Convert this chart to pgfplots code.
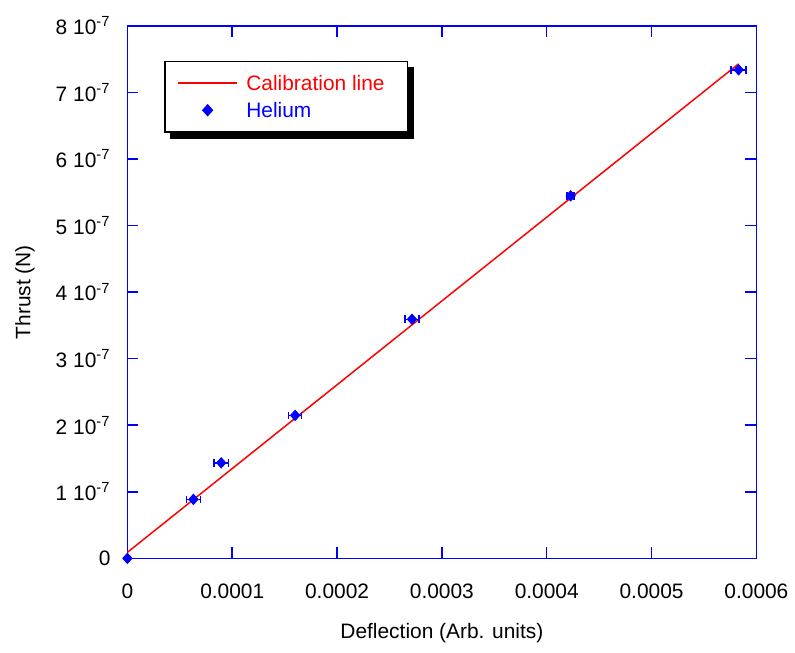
\documentclass[border=0pt]{standalone}
\usepackage{pgfplots}
\pgfplotsset{compat=1.18}
\usepackage{fontspec}
\setmainfont{Liberation Sans}
\pgfdeclarelayer{shadowlayer}
\pgfsetlayers{shadowlayer,main}
\begin{document}
\begin{tikzpicture}
\begin{axis}[
  scale only axis,
  width=316pt, height=267.5pt,
  font=\fontsize{10.5}{12.6}\selectfont,
  xmin=0, xmax=0.0006, ymin=0, ymax=8,
  axis line style={blue, line width=0.75pt},
  every tick/.style={blue, line width=0.75pt},
  tick align=inside,
  major tick length=5.5pt,
  xtick={0,0.0001,0.0002,0.0003,0.0004,0.0005,0.0006},
  xticklabels={0,0.0001,0.0002,0.0003,0.0004,0.0005,0.0006},
  ytick={0,1,2,3,4,5,6,7,8},
  yticklabels={0,1 10\textsuperscript{-7},2 10\textsuperscript{-7},3 10\textsuperscript{-7},4 10\textsuperscript{-7},5 10\textsuperscript{-7},6 10\textsuperscript{-7},7 10\textsuperscript{-7},8 10\textsuperscript{-7}},
  x tick label style={yshift=-9.5pt},
  y tick label style={xshift=-5pt},
  scaled x ticks=false,
  xlabel={Deflection (Arb. units)},
  ylabel={Thrust (N)},
  x label style={at={(axis description cs:0.5,-0.14)}, anchor=center},
  y label style={at={(axis description cs:-0.163,0.5)}, anchor=center},
  clip=false,
  legend cell align=left,
  legend style={name=leg, at={(rel axis cs:0.0585,0.9346)}, anchor=north west,
    draw=black, line width=0.75pt, fill=white,
    inner xsep=6pt, inner ysep=6pt, row sep=3.5pt, column sep=4pt,
    nodes={inner sep=0pt, text height=8.5pt, text depth=1.5pt}},
]
\addplot[red, line width=0.75pt,
  legend image code/.code={\draw[red, line width=0.9pt] (0pt,0pt) -- (30pt,0pt);}]
  coordinates {(0,0.09) (0.000583,7.43)};
\addlegendentry{\textcolor{red}{Calibration line}\kern 5.5pt}
\addplot[only marks, mark=diamond*, mark size=2.6pt, blue,
  mark options={xscale=1.2},
  legend image code/.code={\path[draw=none] (0pt,0pt) -- (30pt,0pt); \path[draw=none] plot[mark=diamond*, only marks, mark size=2.6pt, mark options={draw=blue, fill=blue, xscale=1.2}] coordinates {(15pt,0pt)};},
  error bars/.cd, x dir=both, x explicit,
  error mark=|,
  error bar style={blue, line width=0.75pt},
  error mark options={blue, mark size=1.9pt, line width=0.75pt}]
  coordinates {
  (0,0) +- (0,0)
  (0.000063,0.886) +- (0.0000065,0)
  (0.0000895,1.435) +- (0.0000068,0)
  (0.000160,2.148) +- (0.0000063,0)
  (0.0002715,3.592) +- (0.0000066,0)
  (0.0004228,5.446) +- (0.0000033,0)
  (0.000583,7.34) +- (0.0000071,0)
  };
\addlegendentry{\textcolor{blue}{Helium}}
\end{axis}
\begin{pgfonlayer}{shadowlayer}
\fill[black] ([shift={(3pt,-3pt)}]leg.south west) rectangle ([shift={(3pt,-3pt)}]leg.north east);
\end{pgfonlayer}
\path (current axis.south west) ++(-64pt,-47.5pt) rectangle ++(397.5pt,328pt);
\end{tikzpicture}
\end{document}
